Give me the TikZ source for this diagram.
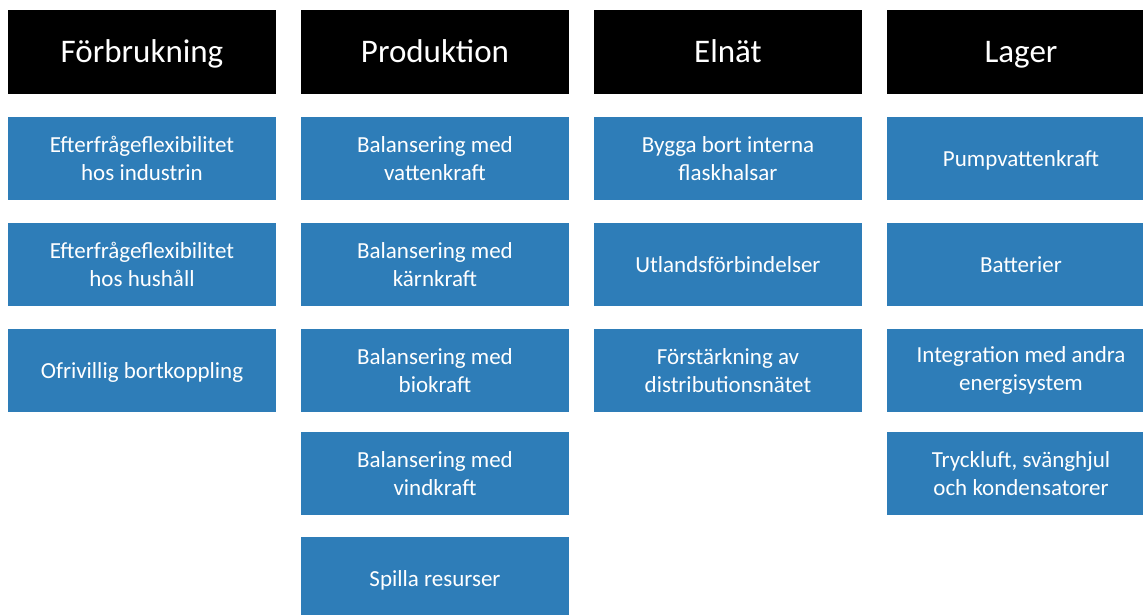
\documentclass[tikz,border=0pt]{standalone}
\usepackage{fontspec}
\setmainfont{Carlito}
\usepackage{tikz}
\definecolor{boxblue}{HTML}{2E7DB8}

\begin{document}
\begin{tikzpicture}[x=1pt,y=-1pt,
    head/.style={fill=black,text=white,minimum width=268pt,minimum height=84pt,text height=21pt,text depth=-6pt,font=\fontsize{33}{36}\selectfont},
    item/.style={fill=boxblue,text=white,align=center,minimum width=268pt,minimum height=83pt,font=\fontsize{23}{28}\selectfont},
    oneline/.style={text height=15pt,text depth=0pt}]
    \useasboundingbox (0,0) rectangle (1143,615);

    \node[head] (forb) at (142,52) {Förbrukning};
    \node[head] (prod) at (435,52) {Produktion};
    \node[head] (elnat) at (728,52) {Elnät};
    \node[head] (lager) at (1021,52) {Lager};

    \node[item] (f1) at (142,158.5) {Efterfrågeflexibilitet\\hos industrin};
    \node[item] (f2) at (142,264.5) {Efterfrågeflexibilitet\\hos hushåll};
    \node[item,oneline] (f3) at (142,370.5) {Ofrivillig bortkoppling};

    \node[item] (p1) at (435,158.5) {Balansering med\\vattenkraft};
    \node[item] (p2) at (435,264.5) {Balansering med\\kärnkraft};
    \node[item] (p3) at (435,370.5) {Balansering med\\biokraft};
    \node[item] (p4) at (435,473.5) {Balansering med\\vindkraft};
    \node[item,oneline] (p5) at (435,578.5) {Spilla resurser};

    \node[item] (e1) at (728,158.5) {Bygga bort interna\\flaskhalsar};
    \node[item,oneline] (e2) at (728,264.5) {Utlandsförbindelser};
    \node[item] (e3) at (728,370.5) {Förstärkning av\\distributionsnätet};

    \node[item,oneline] (l1) at (1021,158.5) {Pumpvattenkraft};
    \node[item,oneline] (l2) at (1021,264.5) {Batterier};
    \node[item] (l3) at (1021,370.5) {Integration med andra\\energisystem};
    \node[item] (l4) at (1021,473.5) {Tryckluft, svänghjul\\och kondensatorer};
\end{tikzpicture}
\end{document}
